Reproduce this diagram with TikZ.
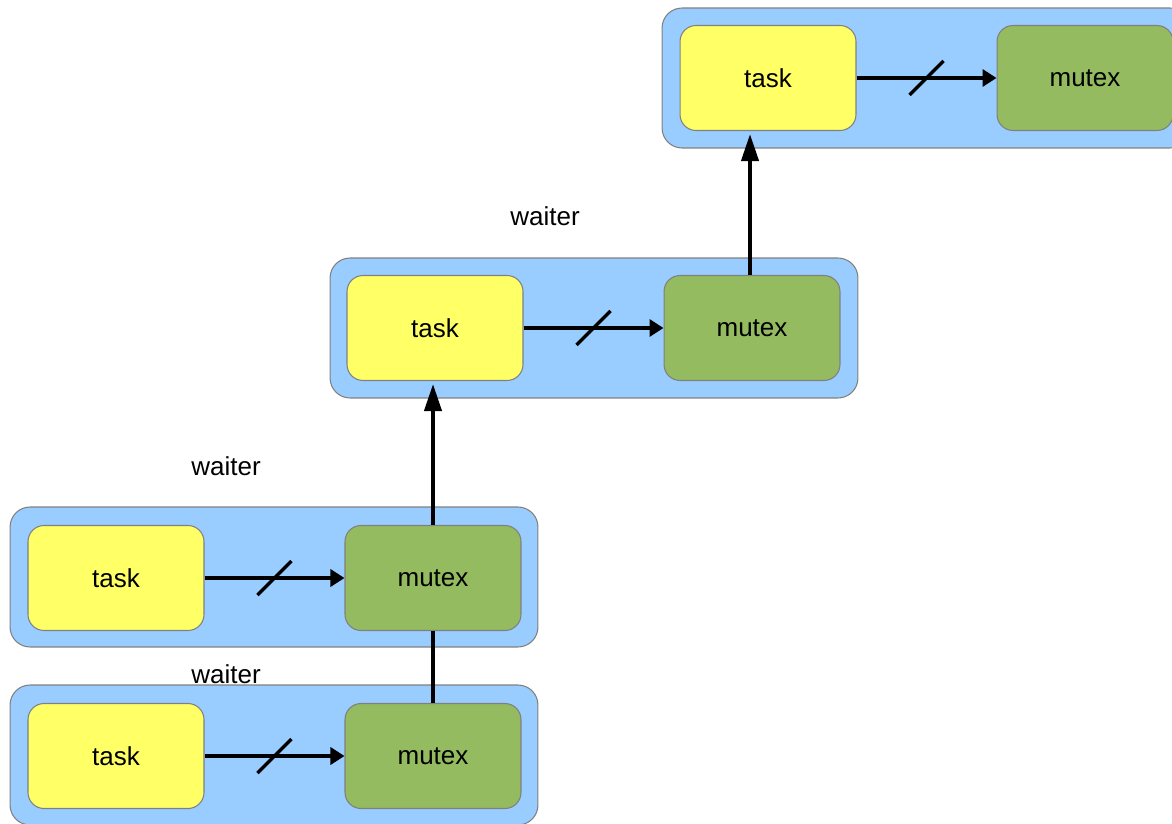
\documentclass[tikz,border=0pt]{standalone}
\usepackage{fontspec}
\setmainfont{Liberation Sans}
\usetikzlibrary{arrows.meta,calc}
\definecolor{waiterblue}{HTML}{99CCFF}
\definecolor{taskyellow}{HTML}{FFFF66}
\definecolor{mutexgreen}{HTML}{94BB5F}
\definecolor{edgegray}{HTML}{808080}
\tikzset{
  x=0.02cm, y=-0.02cm,
  waiterbox/.style={draw=edgegray, line width=0.6pt, fill=waiterblue,
    rounded corners=0.4cm, minimum width=10.56cm, minimum height=2.8cm, inner sep=0pt},
  taskbox/.style={draw=edgegray, line width=0.6pt, fill=taskyellow,
    rounded corners=0.32cm, minimum width=3.52cm, minimum height=2.1cm,
    inner sep=0pt, font=\fontsize{14.8pt}{16pt}\selectfont},
  mutexbox/.style={taskbox, fill=mutexgreen},
  lbl/.style={inner sep=0pt, font=\fontsize{14.8pt}{16pt}\selectfont},
  arr/.style={line width=1.9pt, -{Triangle[length=0.28cm, width=0.34cm]}},
  uparr/.style={line width=2.3pt, shorten >=0.06cm,
    -{Triangle[length=0.54cm, width=0.34cm]}},
  link/.style={line width=2.3pt},
  slashmark/.style={line width=1.9pt}
}
\begin{document}
\begin{tikzpicture}
  \useasboundingbox (0,0) rectangle (1172,824);
  \clip (0,0) rectangle (1172,824);
  \fill[white] (0,0) rectangle (1172,824);

  % waiter containers
  \node[waiterbox] (w1) at (926,78) {};
  \node[waiterbox] (w2) at (594,328) {};
  \node[waiterbox] (w3) at (274,577) {};
  \node[waiterbox] (w4) at (274,755) {};

  % tasks and mutexes
  \node[taskbox]  (t1) at (768,78)  {task};
  \node[mutexbox] (m1) at (1085,78) {mutex};
  \node[taskbox]  (t2) at (435,328) {task};
  \node[mutexbox] (m2) at (752,328) {mutex};
  \node[taskbox]  (t3) at (116,578) {task};
  \node[mutexbox] (m3) at (433,578) {mutex};
  \node[taskbox]  (t4) at (116,756) {task};
  \node[mutexbox] (m4) at (433,756) {mutex};

  % labels
  \node[lbl] (l2) at (545,216) {waiter};
  \node[lbl] (l3) at (226,466) {waiter};
  \node[lbl] (l4) at (226,674) {waiter};

  % blocked-on arrows, each crossed by a slash
  \foreach \t/\m in {t1/m1, t2/m2, t3/m3, t4/m4}{
    \draw[arr] (\t.east) -- (\m.west);
    \coordinate (mid) at ($(\t.east)!0.5!(\m.west)$);
    \draw[slashmark] (mid) ++(-17,17) -- ++(34,-34);
  }

  % owner chain
  \draw[uparr] ([xshift=-0.04cm]m2.north) -- ([xshift=-0.04cm]m2.north |- t1.south);
  \draw[uparr] (m3.north) -- (m3.north |- t2.south);
  \draw[link] (m4.north) -- (m3.south);
\end{tikzpicture}
\end{document}
